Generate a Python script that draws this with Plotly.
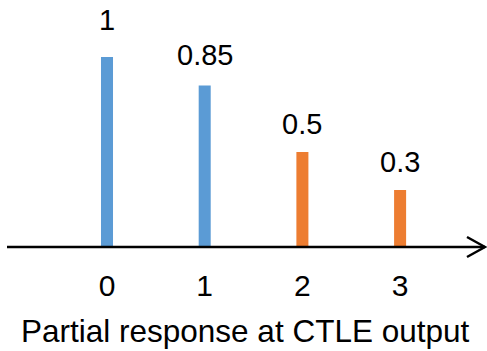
import plotly.graph_objects as go

categories = [0, 1, 2, 3]
values = [1, 0.85, 0.5, 0.3]
labels = ["1", "0.85", "0.5", "0.3"]
colors = ["#5B9BD5", "#5B9BD5", "#ED7D31", "#ED7D31"]
label_shift = [26, 20, 17, 17]
title_text = "Partial response at CTLE output"

W, H = 487, 351
base_px = 247  # axis line from top
fig = go.Figure()
fig.add_trace(go.Bar(x=categories, y=values, marker=dict(color=colors, line=dict(width=0)),
                     width=0.123, hoverinfo="skip"))

FONT = "Liberation Sans, Arial, sans-serif"
for c, v, t, s in zip(categories, values, labels, label_shift):
    fig.add_annotation(x=c, y=v, text=t, showarrow=False, yanchor="bottom", yshift=s - 7,
                       font=dict(family=FONT, size=29, color="#000000"))

ph = base_px
# arrow axis
fig.add_shape(type="line", xref="paper", yref="paper", x0=7 / W, x1=485 / W, y0=0, y1=0,
              line=dict(color="black", width=2.5))
fig.add_shape(type="path", xref="paper", yref="paper",
              path=f"M {467/W} {10/ph} L {485/W} 0 L {467/W} {-10/ph}",
              line=dict(color="black", width=2.5))

fig.add_annotation(xref="paper", yref="paper", x=244.5 / W, y=(base_px - 331) / ph, text=title_text,
                   showarrow=False, yanchor="middle", xanchor="center",
                   font=dict(family=FONT, size=31.5, color="#000000"))

fig.update_layout(
    width=W, height=H, margin=dict(l=0, r=0, t=0, b=H - base_px),
    paper_bgcolor="white", plot_bgcolor="white", showlegend=False,
    xaxis=dict(range=[-107 / 97.7, 380 / 97.7], tickvals=categories, ticktext=[str(c) for c in categories],
               showgrid=False, zeroline=False, showline=False, ticks="",
               tickfont=dict(family=FONT, size=30, color="#000000"), ticklabelstandoff=18),
    yaxis=dict(range=[0, base_px / 190], visible=False, showgrid=False, zeroline=False),
)
fig.write_html("out.html")
